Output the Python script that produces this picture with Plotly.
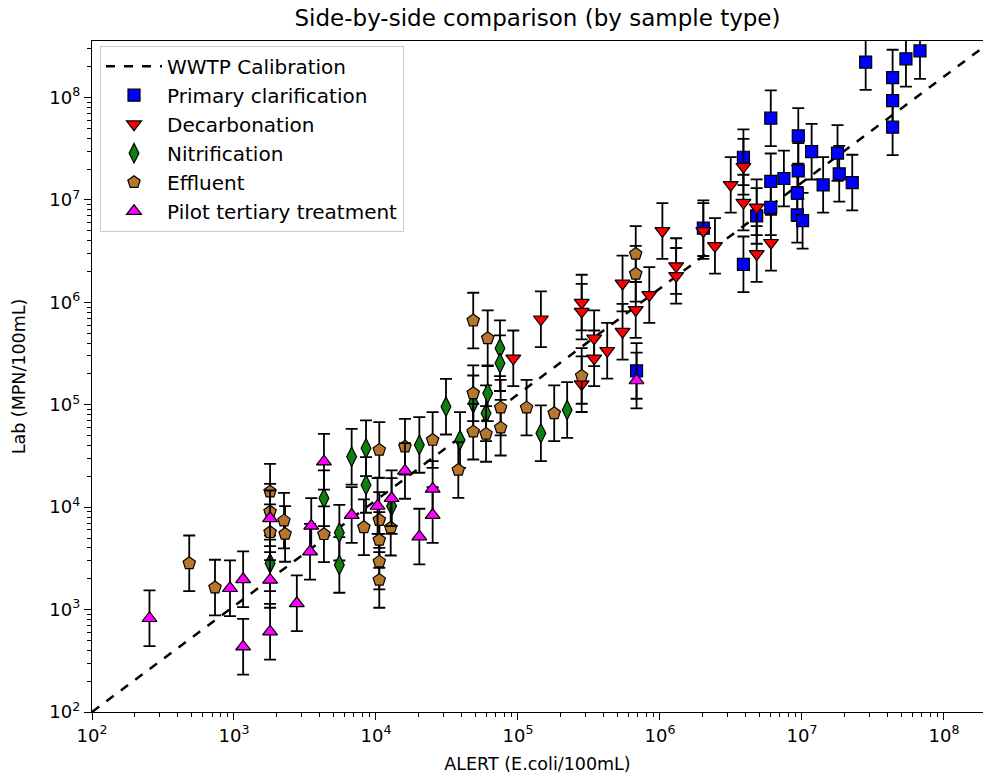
import plotly.graph_objects as go

# ---- data -------------------------------------------------------------
# WWTP calibration curve (power law through the lower-left corner)
calib_x = [1e2, 1e9]
calib_y = [1e2, 1.73e9]

primary_x = [6.84e5, 2.02e6, 3.87e6, 3.87e6, 4.80e6, 6.03e6, 6.03e6, 6.03e6, 7.46e6,
             9.42e6, 9.42e6, 9.27e6, 9.27e6, 1.01e7, 1.17e7, 1.41e7, 1.78e7, 1.83e7,
             2.26e7, 2.81e7, 4.35e7, 4.35e7, 4.35e7, 5.40e7, 6.78e7]
primary_y = [2.14e5, 5.30e6, 2.61e7, 2.35e6, 6.98e6, 6.28e7, 1.52e7, 8.48e6, 1.62e7,
             4.22e7, 1.92e7, 1.163e7, 7.15e6, 6.27e6, 2.96e7, 1.403e7, 2.87e7, 1.80e7,
             1.478e7, 2.22e8, 1.566e8, 9.34e7, 5.13e7, 2.39e8, 2.85e8]

decarb_x = [9.27e4, 1.45e5, 2.81e5, 2.81e5, 2.81e5, 3.44e5, 3.44e5, 4.25e5, 5.45e5,
            5.45e5, 6.75e5, 8.41e5, 1.04e6, 1.30e6, 1.30e6, 2.02e6, 2.44e6, 3.15e6,
            3.87e6, 3.87e6, 4.80e6, 4.80e6, 6.05e6]
decarb_y = [2.84e5, 6.84e5, 9.95e5, 8.12e5, 1.59e5, 4.46e5, 2.84e5, 3.37e5, 1.53e6,
            5.17e5, 8.43e5, 1.181e6, 4.98e6, 2.26e6, 1.815e6, 4.98e6, 3.56e6, 1.403e7,
            2.11e7, 9.42e6, 8.48e6, 2.97e6, 3.82e6]

nitri_x = [1795, 4300, 5520, 5520, 6740, 8510, 8510, 12880, 20200, 31120, 39080,
           48400, 61200, 59600, 74700, 74700, 1.45e5, 2.22e5]
nitri_y = [2830, 12220, 5640, 2730, 31100, 37650, 16500, 10270, 40540, 95800, 45300,
           103300, 129400, 82600, 356700, 254700, 52700, 88950]

effl_x = [484, 735, 1795, 1795, 1795, 2250, 2290, 4300, 8220, 10550, 10550, 10550,
          10550, 10550, 12700, 16000, 25060, 38000, 48400, 48400, 48400, 61200, 59600,
          75500, 75500, 1.15e5, 1.80e5, 2.81e5, 6.75e5, 6.75e5]
effl_y = [2830, 1640, 14170, 9020, 5690, 7390, 5480, 5440, 6360, 36230, 7490, 4790,
          2940, 1950, 6310, 39000, 45300, 23090, 6.64e5, 1.294e5, 54650, 4.46e5, 51950,
          93770, 59790, 93770, 82600, 1.914e5, 2.97e6, 1.90e6]

pilot_x = [254, 937, 1160, 1160, 1795, 1795, 1795, 2770, 3500, 3430, 4300, 6740,
           10260, 12880, 16000, 20200, 25060, 25060, 6.84e5]
pilot_y = [823, 1616, 1976, 434, 7780, 1950, 608, 1152, 6560, 3676, 27800, 8380,
           10270, 12220, 22590, 5160, 15070, 8380, 1.726e5]

# multiplicative 95% confidence factor of the lab MPN counts
CI_FACTOR = 1.87

tick_vals = [1e2, 1e3, 1e4, 1e5, 1e6, 1e7, 1e8]
tick_text = ["10<sup>2</sup>", "10<sup>3</sup>", "10<sup>4</sup>", "10<sup>5</sup>",
             "10<sup>6</sup>", "10<sup>7</sup>", "10<sup>8</sup>"]

FONT = "DejaVu Sans"

series = [
    ("Primary clarification", primary_x, primary_y, "square", "#0000ff", 12),
    ("Decarbonation", decarb_x, decarb_y, "triangle-down", "#ff0000", 13),
    ("Nitrification", nitri_x, nitri_y, "diamond-tall", "#108010", 14),
    ("Effluent", effl_x, effl_y, "pentagon", "#b8762c", 13),
    ("Pilot tertiary treatment", pilot_x, pilot_y, "triangle-up", "#ff00ff", 13),
]

fig = go.Figure()

fig.add_trace(go.Scatter(
    x=calib_x, y=calib_y, mode="lines", name="WWTP Calibration",
    line=dict(color="black", width=2.5, dash="dash"),
))

for name, xs, ys, symbol, color, size in series:
    err_up = [v * (CI_FACTOR - 1) for v in ys]
    err_dn = [v * (1 - 1 / CI_FACTOR) for v in ys]
    fig.add_trace(go.Scatter(
        x=xs, y=ys, mode="markers", name=name,
        marker=dict(symbol=symbol, size=size, color=color,
                    line=dict(color="black", width=1.2)),
        error_y=dict(type="data", symmetric=False, array=err_up, arrayminus=err_dn,
                     color="black", thickness=1.8, width=6),
    ))

axis_common = dict(
    type="log", showgrid=False, zeroline=False, showline=True,
    linecolor="black", linewidth=1.3,
    ticks="outside", ticklen=7, tickwidth=1.3, tickcolor="black",
    tickvals=tick_vals, ticktext=tick_text,
    tickfont=dict(family=FONT, size=18, color="black"),
    minor=dict(ticks="outside", ticklen=4, tickwidth=1, tickcolor="black",
               dtick="D1", showgrid=False),
)

fig.update_layout(
    width=983, height=778,
    margin=dict(l=92, r=0, t=41, b=66),
    paper_bgcolor="white", plot_bgcolor="white",
    font=dict(family=FONT, color="black"),
    title=dict(text="Side-by-side comparison (by sample type)",
               x=0.5, xref="paper", xanchor="center",
               y=1 - 18 / 778, yref="container", yanchor="middle",
               font=dict(family=FONT, size=23, color="black")),
    xaxis=dict(axis_common, range=[2, 8.275], mirror=True,
               title=dict(text="ALERT (E.coli/100mL)", standoff=12,
                          font=dict(family=FONT, size=17.5))),
    yaxis=dict(axis_common, range=[2, 8.552], mirror=False,
               title=dict(text="Lab (MPN/100mL)", standoff=19,
                          font=dict(family=FONT, size=17.5))),
    showlegend=True,
    legend=dict(x=0.009, y=0.993, xanchor="left", yanchor="top",
                bgcolor="rgba(255,255,255,0.85)", bordercolor="#cccccc",
                borderwidth=1, font=dict(family=FONT, size=20, color="black"),
                itemwidth=56, tracegroupgap=0),
)

fig.write_html("out.html")
